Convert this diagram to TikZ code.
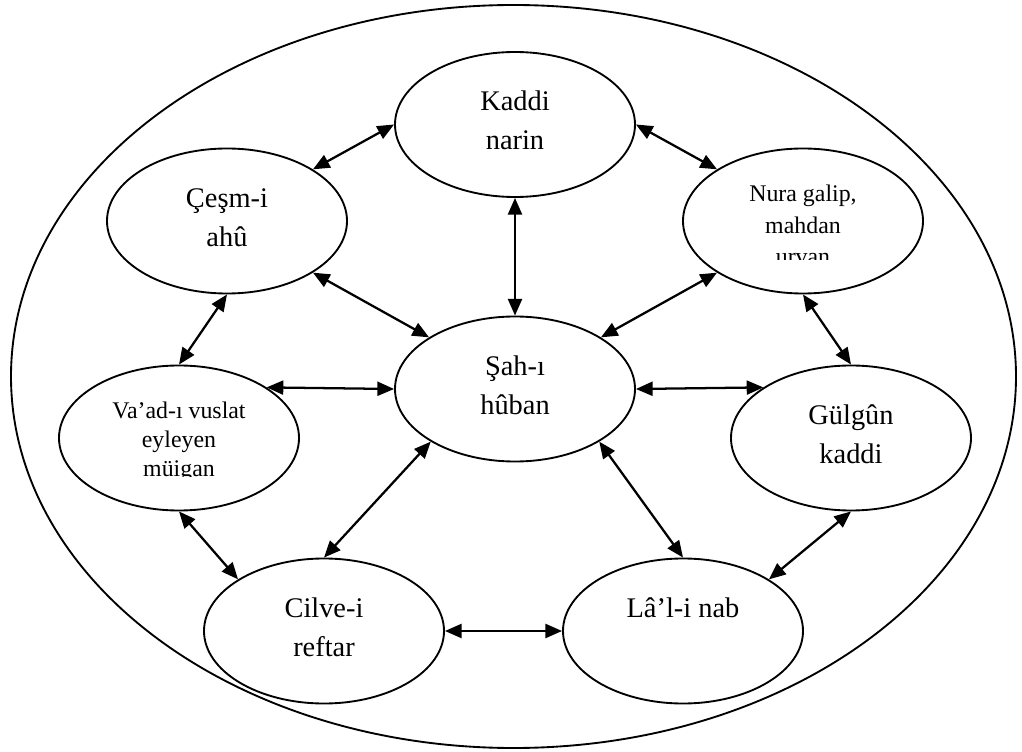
\documentclass[tikz,border=0pt]{standalone}
\usepackage{fontspec}
\setmainfont{Liberation Serif}
\usetikzlibrary{shapes.geometric,arrows.meta}
\newcommand\Bst{\rule[-10.35pt]{0pt}{29.25pt}}
\newcommand\Nst{\rule[-4.725pt]{0pt}{23.625pt}}
\newcommand\Vst{\rule[-4.395pt]{0pt}{21.975pt}}
\begin{document}
\setlength{\lineskiplimit}{-100pt}
\begin{tikzpicture}[x=0.75pt,y=-0.75pt,
  bubble/.style={draw, ellipse, line width=1.4pt, minimum width=180pt, minimum height=108.75pt, inner sep=0pt, align=center},
  bigfont/.style={font=\fontsize{21.3pt}{29.25pt}\selectfont},
  nfont/.style={font=\fontsize{17.9pt}{23.625pt}\selectfont, align=center, inner sep=0pt},
  vfont/.style={font=\fontsize{17.9pt}{21.975pt}\selectfont, align=center, inner sep=0pt},
  link/.style={{Triangle[length=12.5pt,width=10.5pt]}-{Triangle[length=12.5pt,width=10.5pt]}, line width=1.7pt}]
\useasboundingbox (0,0) rectangle (1022,752);
\node[draw, ellipse, line width=1.4pt, minimum width=753.75pt, minimum height=557.25pt, inner sep=0pt] (outer) at (513.5,376.5) {};

\node[bubble,bigfont] (kad) at (515,124.5) {\Bst Kaddi\\\Bst narin};
\node[bubble,bigfont] (ces) at (227,221) {\Bst Çeşm-i\\\Bst ahû};
\node[bubble] (nur) at (803,221) {};
\node[bubble,bigfont] (sah) at (515,389) {\Bst Şah-ı\\\Bst hûban};
\node[bubble] (vaa) at (179,438) {};
\node[bubble,bigfont] (gul) at (851,438) {\Bst Gülgûn\\\Bst kaddi};
\node[bubble,bigfont] (cil) at (324,631) {\Bst Cilve-i\\\Bst reftar};
\node[bubble,bigfont] (lal) at (683,631) {\Bst Lâ’l-i nab\\\Bst};

\begin{scope}
\clip (683,140) rectangle (924,260);
\node[nfont] (nurt) at (803,224) {\Nst Nura galip,\\\Nst mahdan\\\Nst urvan};
\end{scope}
\begin{scope}
\clip (59,370) rectangle (299,477);
\node[vfont] (vaat) at (179,438.8) {\Vst Va’ad-ı vuslat\\\Vst eyleyen\\\Vst müigan};
\end{scope}

\draw[link] (kad.west) -- (ces.31);
\draw[link] (kad.east) -- (nur.149);
\draw[link] (kad.south) -- (sah.north);
\draw[link] (ces.-31) -- (sah.149);
\draw[link] (nur.211) -- (sah.31);
\draw[link] (ces.south) -- (vaa.north);
\draw[link] (nur.south) -- (gul.north);
\draw[link] (vaa.30) -- (sah.west);
\draw[link] (sah.east) -- (gul.150);
\draw[link] (vaa.south) -- (cil.149);
\draw[link] (sah.212) -- (cil.north);
\draw[link] (sah.-32) -- (lal.north);
\draw[link] (gul.south) -- (lal.31);
\draw[link] (cil.east) -- (lal.west);
\end{tikzpicture}
\end{document}
